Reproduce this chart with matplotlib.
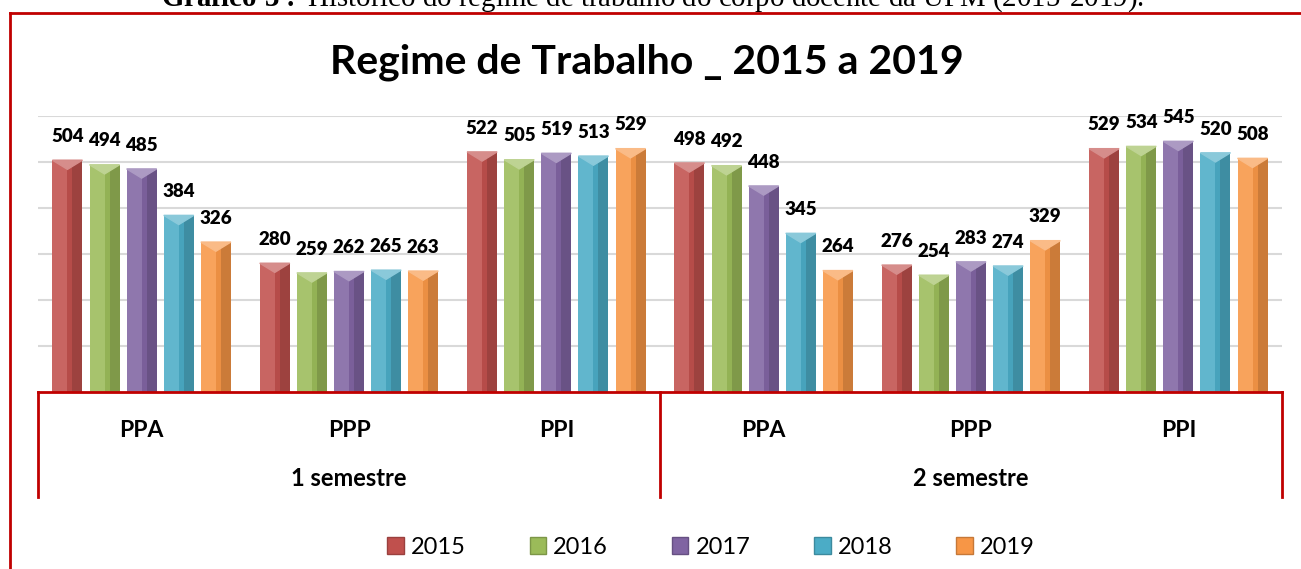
import numpy as np
import matplotlib
matplotlib.use("Agg")
from matplotlib import pyplot as plt
from matplotlib.patches import Polygon, Patch
from matplotlib.lines import Line2D
import matplotlib.colors as mcolors

# data
years = ["2015", "2016", "2017", "2018", "2019"]
regimes = ["PPA", "PPP", "PPI", "PPA", "PPP", "PPI"]
semesters = ["1 semestre", "2 semestre"]
v2015 = [504, 280, 522, 498, 276, 529]
v2016 = [494, 259, 505, 492, 254, 534]
v2017 = [485, 262, 519, 448, 283, 545]
v2018 = [384, 265, 513, 345, 274, 520]
v2019 = [326, 263, 529, 264, 329, 508]
series = [v2015, v2016, v2017, v2018, v2019]
colors = ["#C0504D", "#9BBB59", "#8064A2", "#4BACC6", "#F79646"]

W, H = 1301, 569
fig = plt.figure(figsize=(W / 100, H / 100), dpi=100)
plt.rcParams['font.family'] = ['Lato', 'DejaVu Sans']
plt.rcParams['mathtext.fontset'] = 'custom'
plt.rcParams['mathtext.rm'] = 'Liberation Serif'
plt.rcParams['mathtext.bf'] = 'Liberation Serif:bold'
red = "#C00000"


def mix(c, other, t):
    a = np.array(mcolors.to_rgb(c))
    b = np.array(mcolors.to_rgb(other))
    return tuple(a * (1 - t) + b * t)


def bevel_bar(ax, x, h, w, c):
    # flat bar with a light left face, a dark right face and a pointed top
    ax.bar(x, h, w, color=mix(c, "black", 0.05), zorder=3)
    ax.bar(x - w / 4, h, w / 2, color=mix(c, "white", 0.12), zorder=3)
    ax.bar(x + w / 3, h, w / 3, color=mix(c, "black", 0.18), zorder=3)
    d = 20
    ax.add_patch(Polygon([(x - w / 2, h), (x + w / 2, h), (x, h - d)],
                         closed=True, color=mix(c, "white", 0.35), zorder=4))


# plot area in pixels
x0, x1, yb, yt = 38, 1282, 392, 116
ax = fig.add_axes([x0 / W, 1 - yb / H, (x1 - x0) / W, (yb - yt) / H])
ax.set_xlim(0, 6)
ax.set_ylim(0, 600)
for s in ax.spines.values():
    s.set_visible(False)
ax.set_xticks([])
ax.set_yticks(np.arange(100, 601, 100))
ax.tick_params(left=False, labelleft=False)
ax.yaxis.grid(True, color="#d9d9d9", lw=1.5)
ax.set_axisbelow(True)

pitch = 0.179
bw = 0.145
for j, (vals, c) in enumerate(zip(series, colors)):
    for i, v in enumerate(vals):
        x = i + 0.5 + (j - 2) * pitch
        bevel_bar(ax, x, v, bw, c)
        ax.annotate(str(v), (x, v), xytext=(0, 11), textcoords="offset points",
                    ha="center", va="bottom", fontsize=13.5, fontweight="heavy",
                    color="black", zorder=5)

ax.axhline(0, color=red, lw=2, zorder=6, clip_on=False)

tr = ax.get_xaxis_transform()
for i, r in enumerate(regimes):
    ax.text(i + 0.5, -0.138, r, transform=tr, ha="center", va="center",
            fontsize=16.5, fontweight="bold")
for k, s in enumerate(semesters):
    ax.text(3 * k + 1.5, -0.312, s, transform=tr, ha="center", va="center",
            fontsize=17, fontweight="bold")
for xv in [0, 3, 6]:
    ax.add_line(Line2D([xv, xv], [0, -0.38], transform=tr, color=red, lw=2,
                       clip_on=False))

fig.text(647 / W, 1 - 62 / H, "Regime de Trabalho _ 2015 a 2019", ha="center",
         va="center", fontsize=29.5, fontweight="bold")

handles = [Patch(facecolor=c, edgecolor=mix(c, "black", 0.2)) for c in colors]
fig.legend(handles, years, loc="center", bbox_to_anchor=(711 / W, 1 - 547 / H),
           ncol=5, frameon=False, fontsize=17, handlelength=0.7,
           handleheight=0.7, handletextpad=0.3, columnspacing=2.7)

# page frame and cut-off caption
fig.add_artist(Line2D([10 / W, 1], [1 - 13 / H, 1 - 13 / H], color=red, lw=2))
fig.add_artist(Line2D([10 / W, 10 / W], [0, 1 - 13 / H], color=red, lw=2))
fig.text(161 / W, 1 - 6 / H,
         r"$\mathbf{Gráfico\ 3:}$ Histórico do regime de trabalho do corpo docente da UFM (2015-2019).",
         ha="left", va="baseline", fontsize=20.8, family="Liberation Serif")

fig.savefig("out.png", dpi=100)
